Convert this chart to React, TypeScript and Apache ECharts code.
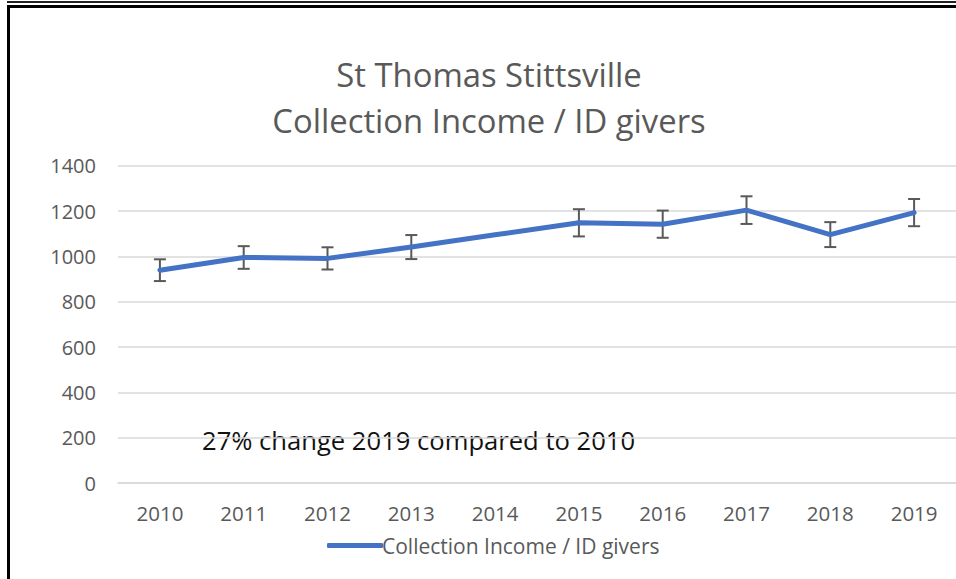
import React, { useEffect, useRef } from "react";
import * as echarts from "echarts";

const categories = ["2010", "2011", "2012", "2013", "2014", "2015", "2016", "2017", "2018", "2019"];
const values = [939, 995, 991, 1041, 1095, 1148, 1142, 1204, 1096, 1193];
const errors: (number | null)[] = [48, 50, 49, 53, null, 60, 60, 61, 55, 60];
const yTicks = { min: 0, max: 1400, interval: 200 };
const seriesName = "Collection Income / ID givers";
const titleLines = ["St Thomas Stittsville", "Collection Income / ID givers"];
const annotation = "27% change 2019 compared to 2010";

const FONT = "'Open Sans', 'Noto Sans', sans-serif";
const GRAY = "#595959";

export default function App() {
  const ref = useRef<HTMLDivElement>(null);
  useEffect(() => {
    if (!ref.current) return;
    const chart = echarts.init(ref.current, null, { renderer: "svg" });
    const errData = errors
      .map((e, i) => (e == null ? null : [i, values[i] - e, values[i] + e]))
      .filter((d) => d !== null);
    chart.setOption({
      animation: false,
      backgroundColor: "#ffffff",
      textStyle: { fontFamily: FONT },
      grid: { left: 118, right: -12, top: 165.7, bottom: 96, containLabel: false },
      legend: {
        data: [{ name: seriesName, icon: "roundRect" }],
        left: 322,
        top: 530,
        itemWidth: 56,
        itemHeight: 5,
        itemGap: 10,
        itemStyle: { color: "#4472C4" },
        textStyle: { color: GRAY, fontSize: 21, fontFamily: FONT, padding: [0, 0, 0, -6] },
      },
      xAxis: {
        type: "category",
        data: categories,
        boundaryGap: true,
        axisLine: { show: true, lineStyle: { color: "#d9d9d9", width: 1.5 } },
        axisTick: { show: false },
        axisLabel: { color: GRAY, fontSize: 20.5, margin: 19, fontFamily: FONT },
        splitLine: { show: false },
      },
      yAxis: {
        type: "value",
        min: yTicks.min,
        max: yTicks.max,
        interval: yTicks.interval,
        axisLine: { show: false },
        axisTick: { show: false },
        axisLabel: {
          color: GRAY,
          fontSize: 20,
          margin: 22,
          fontFamily: FONT,
          formatter: (v: number) => String(v),
        },
        splitLine: { lineStyle: { color: "#d9d9d9", width: 1.5 } },
      },
      series: [
        {
          name: seriesName,
          type: "line",
          data: values,
          symbol: "none",
          z: 3,
          lineStyle: { color: "#4472C4", width: 5, cap: "round", join: "round" },
          itemStyle: { color: "#4472C4" },
        },
        {
          name: "error",
          type: "custom",
          z: 2,
          encode: { x: 0, y: [1, 2] },
          data: errData,
          renderItem: (params: any, api: any) => {
            const lo = api.coord([api.value(0), api.value(1)]);
            const hi = api.coord([api.value(0), api.value(2)]);
            const half = 6;
            const style = { stroke: GRAY, lineWidth: 2 };
            return {
              type: "group",
              children: [
                { type: "line", shape: { x1: lo[0], y1: lo[1], x2: hi[0], y2: hi[1] }, style },
                { type: "line", shape: { x1: lo[0] - half, y1: lo[1], x2: lo[0] + half, y2: lo[1] }, style },
                { type: "line", shape: { x1: hi[0] - half, y1: hi[1], x2: hi[0] + half, y2: hi[1] }, style },
              ],
            };
          },
        },
      ],
      graphic: [
        { type: "rect", shape: { x: 7, y: 1, width: 960, height: 2 }, style: { fill: "#222" } },
        { type: "rect", shape: { x: 7, y: 5, width: 960, height: 3 }, style: { fill: "#000" } },
        { type: "rect", shape: { x: 7, y: 5, width: 3, height: 580 }, style: { fill: "#000" } },
        {
          type: "text",
          x: 489,
          y: 51,
          style: {
            text: titleLines.join("\n"),
            fill: GRAY,
            fontSize: 32.8,
            fontFamily: FONT,
            lineHeight: 46,
            align: "center",
            verticalAlign: "top",
          },
        },
        {
          type: "text",
          x: 202,
          y: 440,
          style: {
            text: annotation,
            fill: "#111",
            fontSize: 25.6,
            fontFamily: FONT,
            align: "left",
            verticalAlign: "middle",
          },
        },
      ],
    });
    return () => chart.dispose();
  }, []);
  return (
    <div
      ref={ref}
      style={{ position: "absolute", left: 0, top: 0, width: 956, height: 579, overflow: "hidden" }}
    />
  );
}
